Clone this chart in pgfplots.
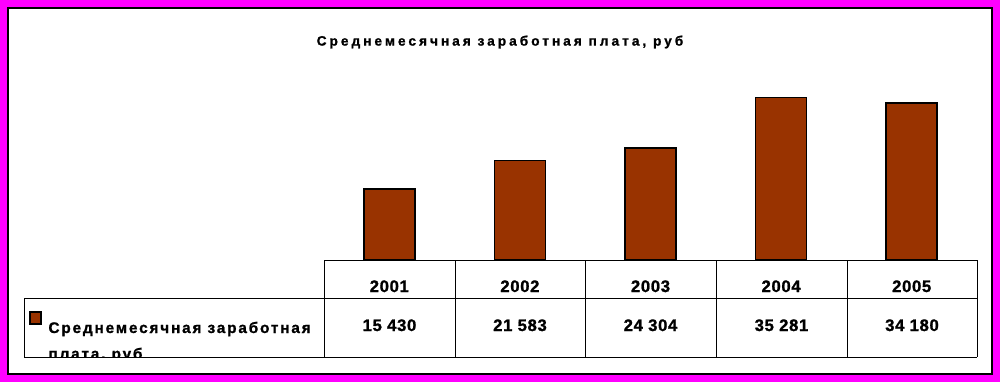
\documentclass[border=0pt]{standalone}
\usepackage{pgfplots}
\pgfplotsset{compat=1.18}
\usepackage{fontspec}
\setmainfont{Liberation Sans}
\newfontfamily\titlefont{Liberation Sans}[LetterSpace=22,FakeBold=1.2]
\newfontfamily\legfont{Liberation Sans}[LetterSpace=12,FakeBold=1.2]
\newfontfamily\midfont{Liberation Sans}[LetterSpace=4,FakeBold=1.2]
\definecolor{barbrown}{HTML}{993300}
\definecolor{frame}{HTML}{FF00FF}
\begin{document}
\begin{tikzpicture}
\begin{scope}[x=0.75pt,y=-0.75pt]
\fill[frame] (0,0) rectangle (1000,382);
\filldraw[fill=white,draw=black,line width=0.9pt] (8,8) rectangle (992,374);
\node[font=\titlefont\bfseries\fontsize{10.25}{12}\selectfont] at (500,42) {Среднемесячная заработная плата, руб};
\end{scope}
\begin{axis}[
  at={(243pt,-195pt)}, anchor=south west,
  scale only axis, width=489.75pt, height=138pt,
  xmin=0.5, xmax=5.5, ymin=0, ymax=40000,
  axis line style={draw=none},
  ytick=\empty,
  xtick={1,2,3,4,5},
  xticklabels={2001,2002,2003,2004,2005},
  major tick length=0pt,
  xticklabel style={anchor=base, yshift=-24pt, font=\midfont\bfseries\fontsize{12.5}{14}\selectfont},
  clip=false,
]
\addplot[ybar, bar width=38.25pt, fill=barbrown, draw=black, line width=1.1pt]
  coordinates {(1,15430) (2,21583) (3,24304) (4,35281) (5,34180)};
\end{axis}
\begin{scope}[x=0.75pt,y=-0.75pt,line width=0.75pt]
\draw (324,260) -- (977,260);
\draw (24,298) -- (977,298);
\draw (24,357) -- (977,357);
\draw (24,298) -- (24,357);
\foreach \xx in {324,455,585,716,847,977} \draw (\xx,260) -- (\xx,357);
\foreach \xx/\v in {389.5/15 430,520/21 583,650.5/24 304,781.5/35 281,912/34 180}
  \node[anchor=base, font=\midfont\bfseries\fontsize{12.5}{14}\selectfont, inner sep=0pt] at (\xx,331) {\v};
\filldraw[fill=barbrown,draw=black,line width=0.9pt] (30,312) rectangle (41,324);
\begin{scope}
\clip (24,298) rectangle (324,356.5);
\node[anchor=base west, inner sep=0pt, font=\legfont\bfseries\fontsize{11.5}{14}\selectfont] at (48,333) {Среднемесячная заработная};
\node[anchor=base west, inner sep=0pt, font=\legfont\bfseries\fontsize{11.5}{14}\selectfont] at (48,359) {плата, руб};
\end{scope}
\end{scope}
\end{tikzpicture}
\end{document}
